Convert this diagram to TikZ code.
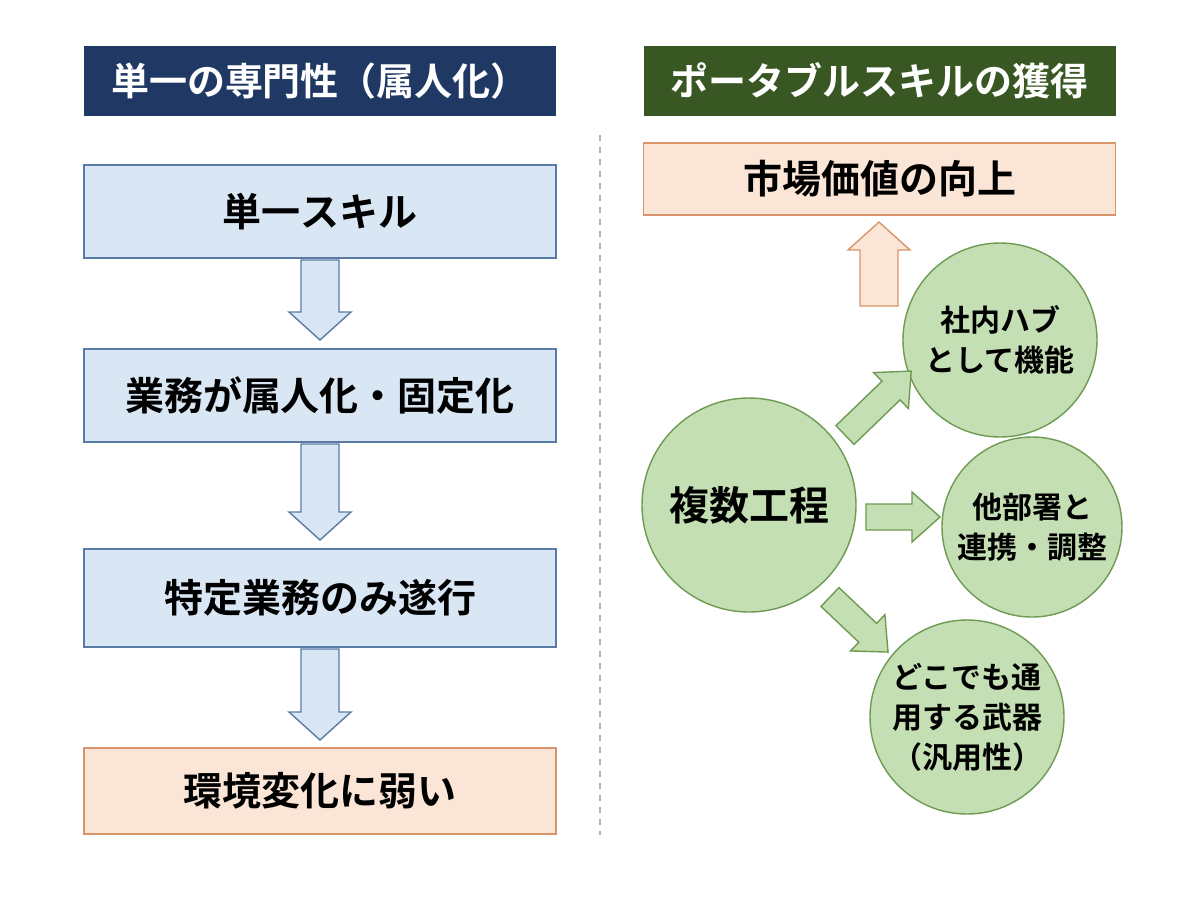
\documentclass[tikz,border=0pt]{standalone}
\usepackage{fontspec}
\setmainfont{Noto Sans CJK JP}[BoldFont={Noto Sans CJK JP Bold}]
\begin{document}
\begin{tikzpicture}[x=0.5pt,y=-0.5pt,
  hdrL/.style={draw=none,fill=navy,text=white,font=\bfseries\fontsize{19}{22}\selectfont,minimum width=236pt,minimum height=35pt,inner sep=0},
  hdrR/.style={hdrL,fill=dgreen},
  bbox/.style={draw=bluebd,fill=bluefill,line width=0.7pt,font=\bfseries\fontsize{19.5}{23}\selectfont,minimum width=236pt,inner sep=0},
  obox/.style={bbox,draw=orbd,fill=orfill},
  circ/.style={circle,draw=grbd,fill=grfill,line width=0.7pt,inner sep=0,align=center,font=\bfseries\fontsize{15}{20}\selectfont},
  pics/barr/.style n args={3}{code={
    \draw[line width=0.7pt,#3] (0,-#2)--({#1-28},-#2)--({#1-28},{-#2-12})--(#1,0)--({#1-28},{#2+12})--({#1-28},#2)--(0,#2)--cycle;}}
]
\definecolor{navy}{HTML}{1F3864}
\definecolor{dgreen}{HTML}{385723}
\definecolor{bluefill}{HTML}{D9E6F4}
\definecolor{bluebd}{HTML}{5A7BA6}
\definecolor{orfill}{HTML}{FBE5D6}
\definecolor{orbd}{HTML}{D8956B}
\definecolor{grfill}{HTML}{C5DFB4}
\definecolor{grbd}{HTML}{6E9A52}
\useasboundingbox[fill=white] (0,0) rectangle (1200,896);
\tikzset{ba/.style={draw=bluebd,fill=bluefill}, oa/.style={draw=orbd,fill=orfill}, ga/.style={draw=grbd,fill=grfill}}
% headers
\node[hdrL] (hl) at (320,81) {単一の専門性（属人化）};
\node[hdrR] (hr) at (879.5,81) {ポータブルスキルの獲得};
\draw[gray!60,dashed,line width=0.6pt] (600,135) -- (600,835);
% left column
\node[bbox,minimum height=46.5pt] (b1) at (320,211.5) {単一スキル};
\node[bbox,minimum height=46.5pt] (b2) at (320,395.5) {業務が属人化・固定化};
\node[bbox,minimum height=49pt] (b3) at (320,598) {特定業務のみ遂行};
\node[obox,minimum height=43pt] (b4) at (320,791) {環境変化に弱い};
\pic[rotate=-90] at (320,260) {barr={80}{19}{ba}};
\pic[rotate=-90] at (320,444) {barr={96}{19}{ba}};
\pic[rotate=-90] at (320,649) {barr={91}{19}{ba}};
% right column
\node[obox,minimum height=36pt] (top) at (879.5,179) {市場価値の向上};
\pic[rotate=90] at (879,306) {barr={84}{19}{oa}};
\node[circ,minimum size=107pt,font=\bfseries\fontsize{20}{24}\selectfont] (m) at (749,505) {複数工程};
\node[circ,minimum size=97pt] (c1) at (1000,340) {社内ハブ\\として機能};
\node[circ,minimum size=90pt] (c2) at (1032,527) {他部署と\\連携・調整};
\node[circ,minimum size=97pt] (c3) at (967,717) {どこでも通\\用する武器\\（汎用性）};
\pic[rotate=44] at (845,435) {barr={92}{13}{ga}};
\pic at (866,517) {barr={74}{13}{ga}};
\pic[rotate=-43.5] at (830,597) {barr={80}{13}{ga}};
\end{tikzpicture}
\end{document}
